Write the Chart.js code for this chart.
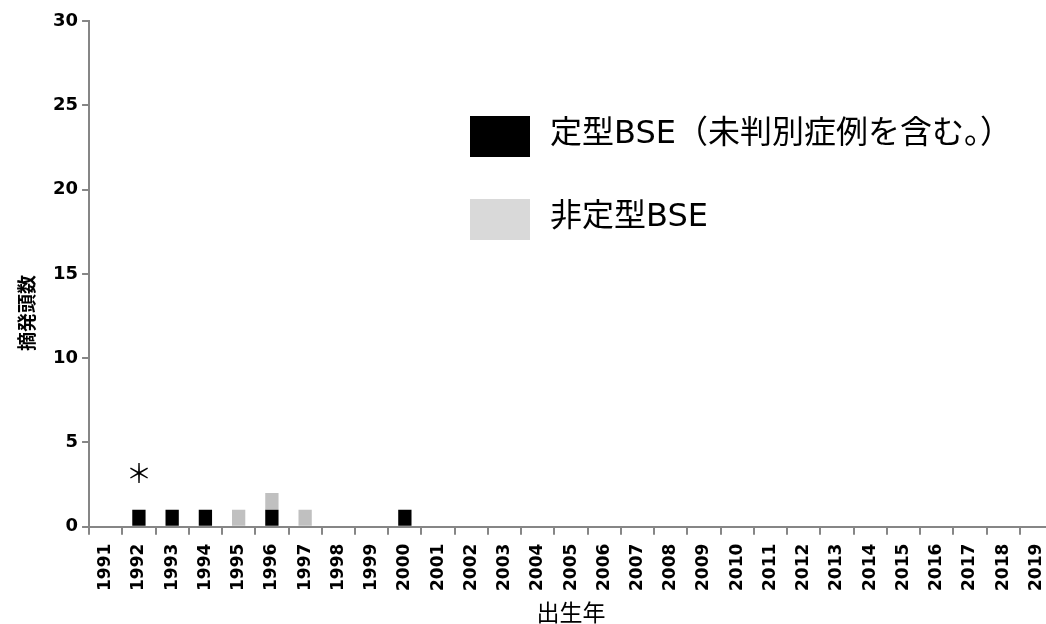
<!DOCTYPE html>
<html>
<head>
<meta charset="utf-8">
<script src="https://cdn.jsdelivr.net/npm/chart.js@4"></script>
<style>
  html, body { margin: 0; padding: 0; background: #fff; overflow: hidden; }
  #wrap { width: 1066px; height: 624px; }
</style>
</head>
<body>
<div id="wrap"><canvas id="myChart" width="1066" height="624"></canvas></div>
<script>
// birth years on the x axis
const years = [];
for (let y = 1991; y <= 2019; y++) years.push(String(y));

// cases per birth year
const classicalBSE = [0, 1, 1, 1, 0, 1, 0, 0, 0, 1, 0, 0, 0, 0, 0, 0, 0, 0, 0, 0, 0, 0, 0, 0, 0, 0, 0, 0, 0];
const atypicalBSE  = [0, 0, 0, 0, 1, 1, 1, 0, 0, 0, 0, 0, 0, 0, 0, 0, 0, 0, 0, 0, 0, 0, 0, 0, 0, 0, 0, 0, 0];

const seriesNames = ['定型BSE（未判別症例を含む。）', '非定型BSE'];
const legendColors = ['#000000', '#d9d9d9'];
const yTicks = [0, 5, 10, 15, 20, 25, 30];
const yTitle = '摘発頭数';

const noteYear = '1992';
const noteMark = '＊';

const axisGray = '#868686';
const fontJP = '"Noto Sans CJK JP", "DejaVu Sans", sans-serif';
const fontLegend = '"DejaVu Sans", "Noto Sans CJK JP", sans-serif';
const fontNum = '"DejaVu Sans", sans-serif';

// legend inside the plot, the y title (sits a bit low in the original) and the asterisk note
const extras = {
    id: 'extras',
    afterDraw(chart) {
        const c = chart.ctx;
        c.save();
        const rows = [116, 199];
        chart.data.datasets.forEach((ds, i) => {
            c.fillStyle = legendColors[i];
            c.fillRect(470, rows[i], 60, 41);
            c.fillStyle = '#000';
            c.font = '32px ' + fontLegend;
            c.textBaseline = 'middle';
            c.textAlign = 'left';
            c.fillText(ds.label, 550, rows[i] + 19);
        });

        c.save();
        c.translate(27, 313);
        c.rotate(-Math.PI / 2);
        c.font = 'bold 19px ' + fontJP;
        c.textAlign = 'center';
        c.textBaseline = 'middle';
        c.fillText(yTitle, 0, 0);
        c.restore();

        const xs = chart.scales.x, ys = chart.scales.y;
        c.font = '26px ' + fontJP;
        c.textAlign = 'center';
        c.textBaseline = 'middle';
        c.fillText(noteMark, xs.getPixelForValue(noteYear), ys.getPixelForValue(3.2));
        c.restore();
    }
};

var ctx = document.getElementById('myChart');
var myChart = new Chart(ctx, {
    type: 'bar',
    data: {
        labels: years,
        datasets: [{
            label: seriesNames[0],
            data: classicalBSE,
            backgroundColor: '#000000',
            borderWidth: 0
        },
        {
            label: seriesNames[1],
            data: atypicalBSE,
            backgroundColor: '#c0c0c0',
            borderWidth: 0
        }]
    },
    options: {
        responsive: false,
        animation: false,
        devicePixelRatio: 1,
        layout: { padding: { left: 49, top: 21, right: 6, bottom: 0 } },
        datasets: { bar: { barPercentage: 0.4, categoryPercentage: 1.0 } },
        plugins: {
            legend: { display: false },
            tooltip: { enabled: false }
        },
        scales: {
            x: {
                stacked: true,
                offset: true,
                grid: {
                    offset: true,
                    drawOnChartArea: false,
                    color: axisGray,
                    lineWidth: 2,
                    tickLength: 8
                },
                border: { color: axisGray, width: 2 },
                ticks: {
                    autoSkip: false,
                    maxRotation: 90,
                    minRotation: 90,
                    color: '#000',
                    padding: 9,
                    font: { family: fontNum, weight: 'bold', size: 17 }
                },
                title: {
                    display: true,
                    text: '出生年',
                    color: '#000',
                    padding: { top: 1, bottom: 0 },
                    font: { family: fontJP, size: 23, lineHeight: 1 }
                }
            },
            y: {
                stacked: true,
                min: 0,
                max: 30,
                afterBuildTicks: (axis) => { axis.ticks = yTicks.map(v => ({ value: v })); },
                grid: {
                    drawOnChartArea: false,
                    color: axisGray,
                    lineWidth: 2,
                    tickLength: 7
                },
                border: { color: axisGray, width: 2 },
                ticks: {
                    color: '#000',
                    padding: 4,
                    font: { family: fontNum, weight: 'bold', size: 18 }
                },
                title: { display: false }
            }
        }
    },
    plugins: [extras]
});
</script>
</body>
</html>
